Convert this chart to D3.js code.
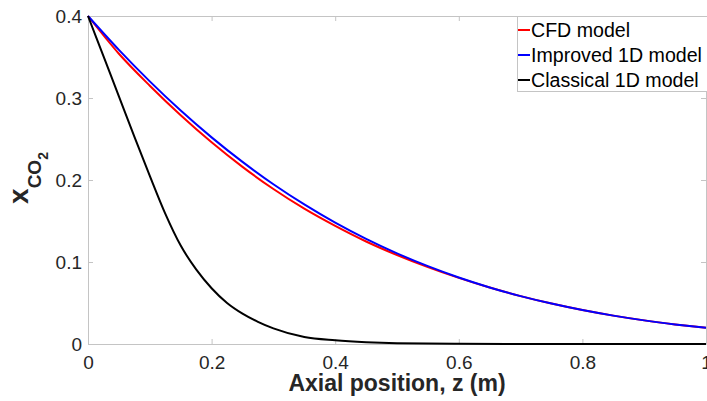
<!DOCTYPE html>
<html>
<head>
<meta charset="utf-8">
<script src="https://cdn.jsdelivr.net/npm/d3@7"></script>
<style>
body { margin: 0; background: #fff; }
text { font-family: "Liberation Sans", Arial, sans-serif; }
</style>
</head>
<body>
<svg id="chart" width="707" height="401"></svg>
<script>
// axial positions (m) for the CFD / improved curves
const zPoints = [0, 0.05, 0.1, 0.15, 0.2, 0.25, 0.3, 0.35, 0.4, 0.45, 0.5,
                 0.55, 0.6, 0.65, 0.7, 0.75, 0.8, 0.85, 0.9, 0.95, 1.0];
const cfdModel = [0.400, 0.354, 0.315, 0.279, 0.246, 0.216, 0.189, 0.165, 0.144, 0.125, 0.1085,
                  0.0938, 0.0806, 0.0688, 0.0584, 0.0493, 0.0414, 0.0346, 0.0288, 0.0239, 0.0197];
const improved1D = [0.400, 0.3587, 0.3203, 0.2847, 0.2520, 0.2221, 0.1948, 0.1702, 0.1480, 0.1282, 0.1105,
                    0.0949, 0.0811, 0.0690, 0.0584, 0.0493, 0.0414, 0.0346, 0.0288, 0.0239, 0.0197];
// classical model drops much faster, so it gets its own finer grid
const classicalZ = [0, 0.025, 0.05, 0.075, 0.1, 0.125, 0.15, 0.175, 0.2, 0.225, 0.25, 0.275,
                    0.3, 0.35, 0.4, 0.45, 0.5, 0.6, 0.7, 0.8, 0.9, 1.0];
const classical1D = [0.400, 0.351, 0.302, 0.253, 0.205, 0.159, 0.120, 0.091, 0.068, 0.050, 0.037, 0.027,
                     0.019, 0.0085, 0.0045, 0.0022, 0.001, 0.0003, 0.0001, 0, 0, 0];

const xTicks = [0, 0.2, 0.4, 0.6, 0.8, 1];
const yTicks = [0, 0.1, 0.2, 0.3, 0.4];
const seriesNames = ["CFD model", "Improved 1D model", "Classical 1D model"];
const seriesColors = ["#ff0000", "#0000ff", "#000000"];

let margin = {left: 88, top: 16, right: 1, bottom: 57}
let width = 707, height = 401
let w = width - margin.left - margin.right
let h = height - margin.top - margin.bottom

let svg = d3.select("#chart")
let g = svg.append("g").attr("transform", "translate(" + margin.left + "," + margin.top + ")")

let x = d3.scaleLinear().domain([0, 1]).range([0, w])
let y = d3.scaleLinear().domain([0, 0.4]).range([h, 0])

let fmt = d3.format("~g")
let axisGray = "#c4c4c4"
let textGray = "#262626"

function styleAxis(sel) {
    sel.selectAll("path.domain").attr("stroke", axisGray)
    sel.selectAll(".tick line").attr("stroke", axisGray)
    sel.selectAll(".tick text")
        .attr("fill", textGray)
        .style("font-size", "19px")
        .style("font-family", "'Liberation Sans', Arial, sans-serif")
}

// box: bottom / left carry labels, top / right only inward ticks
g.append("g").attr("transform", "translate(0," + h + ")")
    .call(d3.axisBottom(x).tickValues(xTicks).tickFormat(fmt).tickSizeInner(-5).tickSizeOuter(0).tickPadding(12))
    .call(styleAxis)
g.append("g")
    .call(d3.axisLeft(y).tickValues(yTicks).tickFormat(fmt).tickSizeInner(-5).tickSizeOuter(0).tickPadding(6))
    .call(styleAxis)
g.append("g")
    .call(d3.axisTop(x).tickValues(xTicks).tickFormat("").tickSizeInner(-5).tickSizeOuter(0))
    .call(styleAxis)
g.append("g").attr("transform", "translate(" + w + ",0)")
    .call(d3.axisRight(y).tickValues(yTicks).tickFormat("").tickSizeInner(-5).tickSizeOuter(0))
    .call(styleAxis)

let series = [
    {name: seriesNames[0], color: seriesColors[0], z: zPoints, v: cfdModel},
    {name: seriesNames[1], color: seriesColors[1], z: zPoints, v: improved1D},
    {name: seriesNames[2], color: seriesColors[2], z: classicalZ, v: classical1D}
]

let line = d3.line()
    .x(d => x(d[0]))
    .y(d => y(d[1]))
    .curve(d3.curveMonotoneX)

g.selectAll("path.curve")
    .data(series)
    .enter()
    .append("path")
    .attr("class", "curve")
    .attr("fill", "none")
    .attr("stroke", d => d.color)
    .attr("stroke-width", 2)
    .attr("d", d => line(d.z.map((z, i) => [z, d.v[i]])))

// legend
let legend = svg.append("g").attr("transform", "translate(517,16)")
legend.append("rect")
    .attr("x", 0.5).attr("y", 0.5)
    .attr("width", 190).attr("height", 75)
    .attr("fill", "#fff")
    .attr("stroke", axisGray)

let entry = legend.selectAll("g.entry")
    .data(series)
    .enter()
    .append("g")
    .attr("class", "entry")
    .attr("transform", (d, i) => "translate(0," + (14 + i * 25) + ")")
entry.append("line")
    .attr("x1", 1).attr("x2", 13)
    .attr("stroke", d => d.color)
    .attr("stroke-width", 2)
entry.append("text")
    .attr("x", 14)
    .attr("dy", "0.35em")
    .attr("fill", "#000")
    .style("font-size", "19.6px")
    .text(d => d.name)

// axis titles
svg.append("text")
    .attr("x", margin.left + w / 2)
    .attr("y", 391)
    .attr("text-anchor", "middle")
    .attr("fill", textGray)
    .style("font-size", "23px")
    .style("font-weight", "bold")
    .text("Axial position, z (m)")

let yl = svg.append("text")
    .attr("transform", "translate(28,178) rotate(-90)")
    .attr("text-anchor", "middle")
    .attr("fill", textGray)
    .style("font-weight", "bold")
yl.append("tspan").style("font-size", "28px").text("x")
yl.append("tspan").style("font-size", "19px").attr("dy", 13).text("CO")
yl.append("tspan").style("font-size", "14px").attr("dy", 7).text("2")
</script>
</body>
</html>
